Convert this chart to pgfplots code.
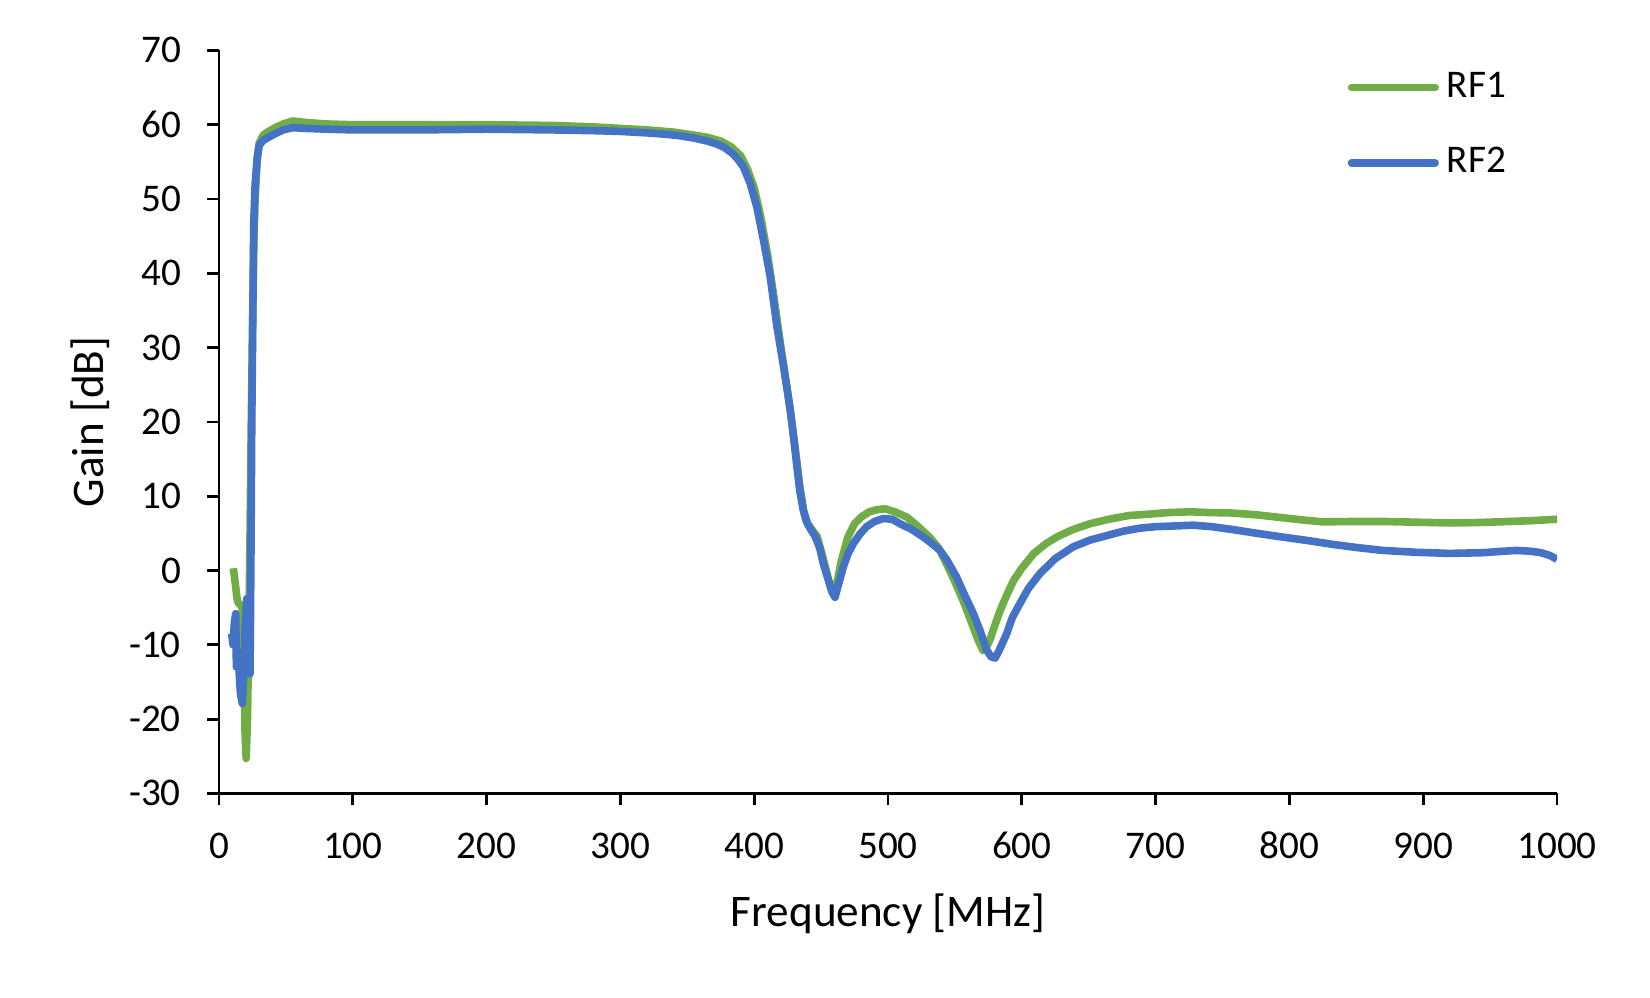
\documentclass[border=0pt]{standalone}
\usepackage{pgfplots}
\pgfplotsset{compat=1.18}
\usepackage{pgfplotstable}
\usepackage{fontspec}
\setmainfont{Carlito}
\definecolor{rfgreen}{HTML}{70AD47}
\definecolor{rfblue}{HTML}{4472C4}

\pgfplotstableread{
f g
10.7 0.3
12 -1.5
13.5 -3.8
14.5 -4.4
16 -4.6
17.3 -5
18.5 -13
19.5 -22
20.3 -25.3
21.3 -20
22.3 -8
23.2 5
24 18
25 32
26 44
27 50
28.5 55
30 57.5
33 58.6
37 59.1
42 59.6
48 60.1
55 60.5
65 60.3
80 60.1
100 60.0
150 60.0
200 60.0
250 59.9
280 59.7
300 59.5
320 59.3
340 59.0
355 58.6
365 58.3
375 57.8
383 57.0
390 55.8
395 54.0
400 51.5
405 47.5
410 42.5
415 36.5
420 30.0
425 24.0
430 17.5
434 11.5
437 8.0
440 6.3
444 5.3
447 4.6
451 2.0
455 -0.8
458 -2.8
460 -3.5
462 -1.5
465 1.2
470 4.5
475 6.3
480 7.2
486 7.9
492 8.2
498 8.3
505 7.9
514 7.2
522 6.0
531 4.5
538 3.0
544 0.8
550 -1.5
556 -4.0
562 -6.8
567 -9.2
571 -10.8
573 -10.5
576 -9.4
580 -7.3
584 -5.3
589 -3.2
594 -1.3
600 0.3
609 2.3
618 3.6
626 4.5
638 5.5
651 6.3
665 6.9
680 7.4
696 7.6
710 7.8
726 7.9
740 7.8
756 7.75
775 7.5
795 7.1
810 6.8
825 6.55
850 6.6
870 6.6
895 6.5
920 6.4
940 6.45
957 6.55
980 6.7
1000 6.9
}\rfone

\pgfplotstableread{
f g
9.5 -8.5
10.5 -10
11.5 -7
12.5 -5.8
13 -13
14 -11
15 -13.5
16 -16.5
17.4 -17.9
18.5 -14
19.5 -8
20.7 -3.8
21.5 -7
22.3 -11.5
23.2 -13.9
23.8 0
24.5 20
25.3 35
26 47
27 52
28.5 55.5
30 57.2
33 57.9
37 58.3
42 58.8
48 59.3
55 59.6
65 59.5
80 59.4
100 59.3
150 59.3
200 59.4
250 59.3
280 59.2
300 59.1
320 58.9
335 58.7
345 58.5
355 58.2
365 57.8
372 57.4
378 56.9
384 56.1
388 55.3
392 54.3
397 52.1
402 48.9
407 44.4
412 39.5
417 32.8
422 27.4
427 21.6
430.5 16.2
434 10.8
436.7 8.1
439 6.6
442 5.6
445.5 4.6
449 3.0
451.7 0.9
455.4 -1.3
458 -2.8
460.4 -3.6
462.5 -2.2
466.6 0.5
470 2.2
474 3.6
479 4.9
484 5.9
490 6.6
496.5 7.0
503 6.9
509 6.3
518 5.5
526.4 4.5
533 3.6
538.9 2.7
544 1.4
551.3 -0.9
557 -3.2
563.8 -5.8
569 -8.2
573.8 -10.7
577 -11.6
580 -11.8
583 -10.8
588.7 -8.5
593 -6.3
598.7 -4.4
605 -2.4
613.6 -0.4
625 1.6
638.5 3.2
651 4.1
663.5 4.7
676 5.3
688.3 5.7
700 5.9
715 6.0
728 6.1
742 5.9
758 5.5
776 5.0
795 4.5
815 4.0
833 3.5
850 3.1
870 2.7
895 2.45
920 2.3
945 2.4
960 2.6
970 2.7
980 2.6
988 2.4
995 2.0
1000 1.5
}\rftwo

\begin{document}
\begin{tikzpicture}
\useasboundingbox (0,0) rectangle (412.5pt,249.25pt);
\begin{axis}[
  at={(54.75pt,50.9pt)}, anchor=south west,
  scale only axis,
  width=334.5pt, height=185.75pt,
  xmin=0, xmax=1000, ymin=-30, ymax=70,
  xtick={0,100,...,1000}, ytick={-30,-20,...,70},
  axis lines*=left,
  axis line style={black, line width=0.7pt},
  tick align=outside,
  major tick length=3pt,
  tick style={black, line width=0.7pt},
  /pgf/number format/assume math mode=true,
  /pgf/number format/1000 sep={},
  tick label style={font=\fontsize{9.8}{11}\selectfont},
  xticklabel style={yshift=-3.5pt, text height=6.3pt, text depth=0pt, anchor=north},
  yticklabel style={xshift=-3pt},
  xlabel={Frequency [MHz]},
  ylabel={Gain [dB]},
  label style={font=\fontsize{11.3}{13}\selectfont},
  xlabel style={yshift=-2pt},
  ylabel style={yshift=-2pt},
  legend style={draw=none, fill=none, at={(0.843,0.983)}, anchor=north west,
    font=\fontsize{9.8}{11}\selectfont, row sep=7pt, inner sep=0pt,
    nodes={inner sep=2pt}},
  legend cell align=left,
  legend image code/.code={\draw[#1, line cap=round] (0.6pt,0pt) -- (21.5pt,0pt);},
]
\addplot[rfgreen, line width=1.9pt, line join=round] table[x=f, y=g] {\rfone};
\addlegendentry{RF1}
\addplot[rfblue, line width=1.9pt, line join=round] table[x=f, y=g] {\rftwo};
\addlegendentry{RF2}
\end{axis}
\end{tikzpicture}
\end{document}
